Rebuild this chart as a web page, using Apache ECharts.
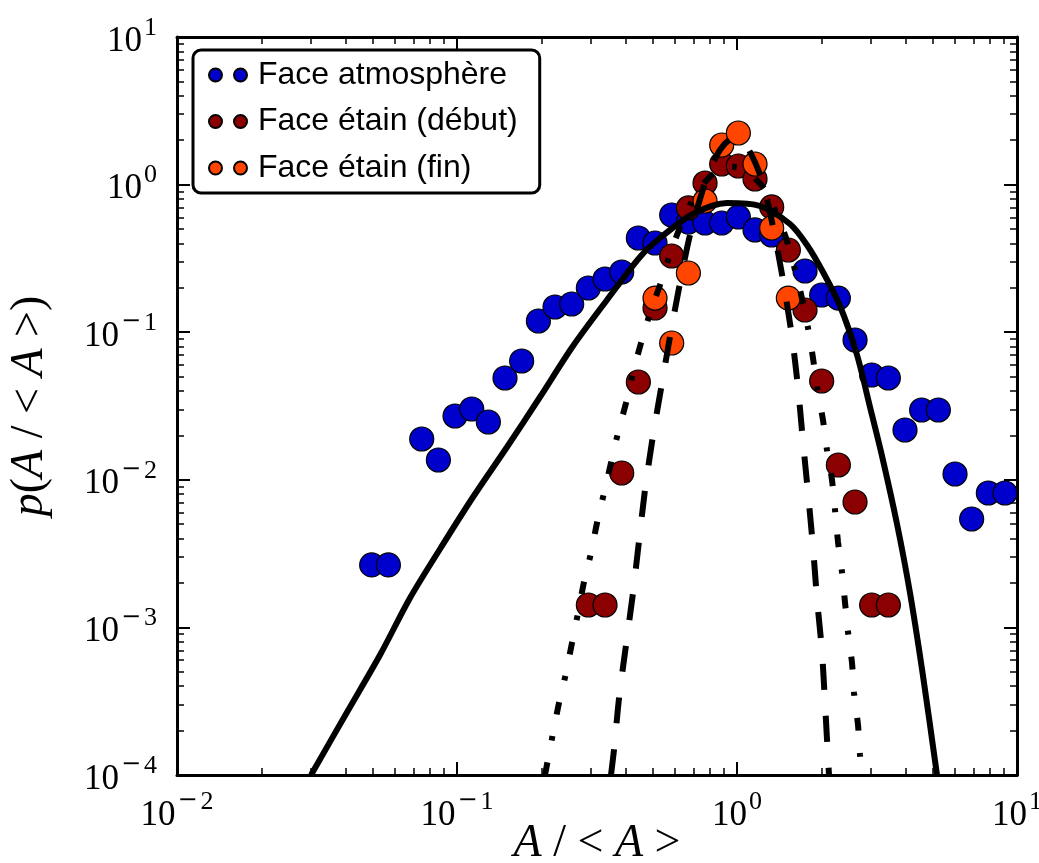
<!DOCTYPE html>
<html><head><meta charset="utf-8">
<script src="https://cdn.jsdelivr.net/npm/echarts@6/dist/echarts.min.js"></script>
<style>html,body{margin:0;padding:0;background:#fff}#c{width:1039px;height:863px}</style>
</head><body><div id="c"></div>
<script>
// ---- data ----
const seriesNames = ['Face atmosphère', 'Face étain (début)', 'Face étain (fin)'];

const xAtm = [0.04958, 0.05687, 0.07482, 0.08580, 0.09840, 0.1129, 0.1294, 0.1484, 0.1702, 0.1953, 0.2239, 0.2568, 0.2945, 0.3378, 0.3875, 0.4443, 0.5096, 0.5845, 0.6704, 0.7689, 0.8818, 1.0111, 1.1596, 1.3301, 1.7497, 2.0064, 2.3012, 2.6397, 3.0269, 3.4714, 3.9811, 4.5656, 5.2375, 6.0065, 6.8881, 7.8997, 9.0598];
const yAtm = [0.00265, 0.00265, 0.0189, 0.01362, 0.02706, 0.03017, 0.02464, 0.04894, 0.06379, 0.1191, 0.1482, 0.1553, 0.1993, 0.2293, 0.2558, 0.4346, 0.4020, 0.6223, 0.5579, 0.5493, 0.5493, 0.6033, 0.4927, 0.4556, 0.2598, 0.1786, 0.1704, 0.08856, 0.05129, 0.04894, 0.02175, 0.02971, 0.02971, 0.01095, 0.005425, 0.00814, 0.00814];

const xDebut = [0.2945, 0.3378, 0.3875, 0.4443, 0.5096, 0.5845, 0.6704, 0.7689, 0.8818, 1.0111, 1.1596, 1.3301, 1.5255, 1.7497, 2.0064, 2.3012, 2.6397, 3.0269, 3.4714];
const yDebut = [0.001418, 0.001418, 0.01112, 0.04598, 0.1459, 0.3283, 0.6945, 1.025, 1.379, 1.337, 1.091, 0.7054, 0.3604, 0.1414, 0.04670, 0.01260, 0.007072, 0.001418, 0.001418];

const xFin = [0.5096, 0.5845, 0.6704, 0.7689, 0.8818, 1.0111, 1.1596, 1.3301, 1.5255];
const yFin = [0.1704, 0.08447, 0.2518, 0.7743, 1.855, 2.236, 1.379, 0.5081, 0.1704];

// fitted curves
const xSolid = [0.03011, 0.04047, 0.05309, 0.06794, 0.08696, 0.1141, 0.1509, 0.1979, 0.2596, 0.3433, 0.4503, 0.5309, 0.6965, 0.9211, 1.208, 1.546, 1.778, 2.028, 2.333, 2.683, 2.985, 3.295, 3.728, 4.149, 4.617, 5.179];
const ySolid = [1e-4, 2.664e-4, 6.501e-4, 1.582e-3, 3.397e-3, 7.647e-3, 0.01668, 0.03639, 0.08062, 0.1653, 0.3232, 0.4346, 0.6322, 0.7505, 0.7161, 0.5409, 0.3898, 0.2558, 0.1505, 0.07005, 0.03113, 0.01450, 5.018e-3, 1.710e-3, 4.685e-4, 1e-4];

const xDashed = [0.3548, 0.3636, 0.3791, 0.4014, 0.4251, 0.4467, 0.4692, 0.5012, 0.5397, 0.5812, 0.6258, 0.6795, 0.7750, 0.8695, 0.9676, 1.0857, 1.228, 1.345, 1.460, 1.572, 1.652, 1.721, 1.793, 1.868, 1.931, 2.012, 2.062, 2.113, 2.131];
const yDashed = [1e-4, 1.477e-4, 3.323e-4, 7.60e-4, 1.710e-3, 3.849e-3, 8.53e-3, 0.01995, 0.04526, 0.1019, 0.2154, 0.4556, 1.074, 1.716, 2.069, 1.798, 1.074, 0.5161, 0.2258, 0.09279, 0.04188, 0.01804, 8.14e-3, 3.504e-3, 1.558e-3, 6.81e-4, 3.074e-4, 1.324e-4, 1e-4];

const xDashDot = [0.2062, 0.2203, 0.2313, 0.2451, 0.2574, 0.2705, 0.2841, 0.3010, 0.3162, 0.3350, 0.3548, 0.3758, 0.4014, 0.4251, 0.4541, 0.4891, 0.5309, 0.6007, 0.6795, 0.7685, 0.9061, 1.068, 1.259, 1.484, 1.679, 1.793, 1.868, 1.931, 2.028, 2.096, 2.184, 2.239, 2.295, 2.371, 2.430, 2.491, 2.575, 2.618, 2.705, 2.750, 2.795];
const yDashDot = [1e-4, 1.925e-4, 3.074e-4, 4.91e-4, 7.84e-4, 1.252e-3, 2.030e-3, 3.192e-3, 5.097e-3, 8.14e-3, 0.01300, 0.02076, 0.03314, 0.05292, 0.08447, 0.1349, 0.2089, 0.4213, 0.7275, 1.041, 1.337, 1.256, 0.9192, 0.4556, 0.1932, 0.1068, 0.06685, 0.04253, 0.02542, 0.01591, 9.97e-3, 6.244e-3, 3.789e-3, 2.373e-3, 1.486e-3, 9.31e-4, 5.74e-4, 3.594e-4, 2.182e-4, 1.366e-4, 1e-4];

// ticks
const majorX = [0.01, 0.1, 1, 10];
const tickExpX = ['−2', '−1', '0', '1'];
const majorY = [1e-4, 1e-3, 1e-2, 0.1, 1, 10];
const tickExpY = ['−4', '−3', '−2', '−1', '0', '1'];
const minorX = [0.02,0.03,0.04,0.05,0.06,0.07,0.08,0.09, 0.2,0.3,0.4,0.5,0.6,0.7,0.8,0.9, 2,3,4,5,6,7,8,9];
const minorY = [2e-4,3e-4,4e-4,5e-4,6e-4,7e-4,8e-4,9e-4, 0.002,0.003,0.004,0.005,0.006,0.007,0.008,0.009, 0.02,0.03,0.04,0.05,0.06,0.07,0.08,0.09, 0.2,0.3,0.4,0.5,0.6,0.7,0.8,0.9, 2,3,4,5,6,7,8,9];

const colors = ['#0000cc', '#8b0000', '#ff4500'];

// ---- build ----
const zip = (a, b) => a.map((v, i) => [v, b[i]]);
function expLabel(majors, exps) {
  return function (v) {
    const i = majors.findIndex(m => Math.abs(Math.log10(m) - Math.log10(v)) < 1e-6);
    if (i < 0) return '';
    const e = exps[i];
    if (e.charAt(0) === '−') return '{b|10}{m|−}{s|' + e.slice(1) + '}';
    return '{b|10}{s|' + e + '}';
  };
}
const labelRich = {
  b: { fontFamily: 'Liberation Serif', fontSize: 35, color: '#000', verticalAlign: 'bottom', lineHeight: 44 },
  m: { fontFamily: 'DejaVu Serif', fontSize: 24, color: '#000', verticalAlign: 'top', lineHeight: 42, padding: [0, 1, 0, 2] },
  s: { fontFamily: 'Liberation Serif', fontSize: 26, color: '#000', verticalAlign: 'top', lineHeight: 44, padding: [0, 0, 0, 2] }
};
const nameRich = {
  i: { fontFamily: 'Liberation Serif', fontStyle: 'italic', fontSize: 46, color: '#000' },
  n: { fontFamily: 'Liberation Serif', fontSize: 46, color: '#000' }
};
const MIN_X = 0.01, MAX_X = 10, MIN_Y = 1e-4, MAX_Y = 10;

function logAxis(kind, pos, opts) {
  const isX = kind === 'x';
  const base = {
    type: 'log', logBase: 10, position: pos,
    min: isX ? MIN_X : MIN_Y, max: isX ? MAX_X : MAX_Y,
    splitLine: { show: false },
    axisLine: { show: false },
    axisLabel: { show: false },
    axisTick: { show: false },
    minorTick: { show: false }
  };
  return Object.assign(base, opts);
}
const majorTick = (vals) => ({ show: true, inside: true, length: 13, customValues: vals, lineStyle: { color: '#000', width: 2 } });
const minorTickS = (vals) => ({ show: true, inside: true, length: 7, customValues: vals, lineStyle: { color: '#000', width: 1.5 } });
const frameLine = { show: true, onZero: false, lineStyle: { color: '#000', width: 3 } };

const option = {
  animation: false,
  backgroundColor: '#fff',
  grid: { left: 177, right: 22, top: 37, bottom: 88, containLabel: false, outerBoundsMode: 'none' },
  xAxis: [
    logAxis('x', 'bottom', {
      axisLine: frameLine,
      axisTick: majorTick(majorX),
      axisLabel: { show: true, customValues: majorX, formatter: expLabel(majorX, tickExpX), margin: 14, rich: labelRich },
      name: '{i|A}{n| / < }{i|A}{n| >}', nameLocation: 'middle', nameGap: 46, nameMoveOverlap: false,
      nameTextStyle: { rich: nameRich }
    }),
    logAxis('x', 'bottom', { axisTick: minorTickS(minorX) }),
    logAxis('x', 'top', { axisLine: frameLine, axisTick: majorTick(majorX) }),
    logAxis('x', 'top', { axisTick: minorTickS(minorX) })
  ],
  yAxis: [
    logAxis('y', 'left', {
      axisLine: frameLine,
      axisTick: majorTick(majorY),
      axisLabel: { show: true, customValues: majorY, formatter: expLabel(majorY, tickExpY), margin: 20, rich: labelRich },
      name: '{i|p}{n|(}{i|A}{n| / < }{i|A}{n| >)}', nameLocation: 'middle', nameGap: 124, nameRotate: 90, nameMoveOverlap: false,
      nameTextStyle: { rich: nameRich }
    }),
    logAxis('y', 'left', { axisTick: minorTickS(minorY) }),
    logAxis('y', 'right', { axisLine: frameLine, axisTick: majorTick(majorY) }),
    logAxis('y', 'right', { axisTick: minorTickS(minorY) })
  ],
  legend: {
    data: seriesNames,
    orient: 'vertical', left: 193, top: 50,
    padding: [9, 22, 9, 15], itemGap: 14.5,
    itemWidth: 38, itemHeight: 13,
    icon: 'path://M0,6.5a6.5,6.5 0 1,0 13,0a6.5,6.5 0 1,0 -13,0M25,6.5a6.5,6.5 0 1,0 13,0a6.5,6.5 0 1,0 -13,0',
    backgroundColor: '#fff', borderColor: '#000', borderWidth: 3, borderRadius: 8,
    selectedMode: false,
    textStyle: { fontFamily: 'Liberation Sans', fontSize: 32, color: '#000', padding: [0, 0, 0, 6] }
  },
  series: [
    { name: seriesNames[0], type: 'scatter', data: zip(xAtm, yAtm), symbolSize: 24, z: 2,
      itemStyle: { color: colors[0], borderColor: '#000', borderWidth: 1.2, opacity: 1 } },
    { name: seriesNames[1], type: 'scatter', data: zip(xDebut, yDebut), symbolSize: 24, z: 2,
      itemStyle: { color: colors[1], borderColor: '#000', borderWidth: 1.2, opacity: 1 } },
    { name: seriesNames[2], type: 'scatter', data: zip(xFin, yFin), symbolSize: 24, z: 2,
      itemStyle: { color: colors[2], borderColor: '#000', borderWidth: 1.2, opacity: 1 } },
    { name: 'fit1', type: 'line', data: zip(xSolid, ySolid), showSymbol: false, symbol: 'none', smooth: 0.3, z: 3,
      lineStyle: { color: '#000', width: 6, type: 'solid' } },
    { name: 'fit2', type: 'line', data: zip(xDashed, yDashed), showSymbol: false, symbol: 'none', smooth: 0.25, z: 3,
      lineStyle: { color: '#000', width: 6, type: [26, 26], cap: 'butt' } },
    { name: 'fit3', type: 'line', data: zip(xDashDot, yDashDot), showSymbol: false, symbol: 'none', smooth: 0.25, z: 3,
      lineStyle: { color: '#000', width: 6, type: [13, 22, 4.5, 22], cap: 'butt' } }
  ]
};
const chart = echarts.init(document.getElementById('c'), null, { renderer: 'canvas' });
chart.setOption(option);
</script>
</body></html>
